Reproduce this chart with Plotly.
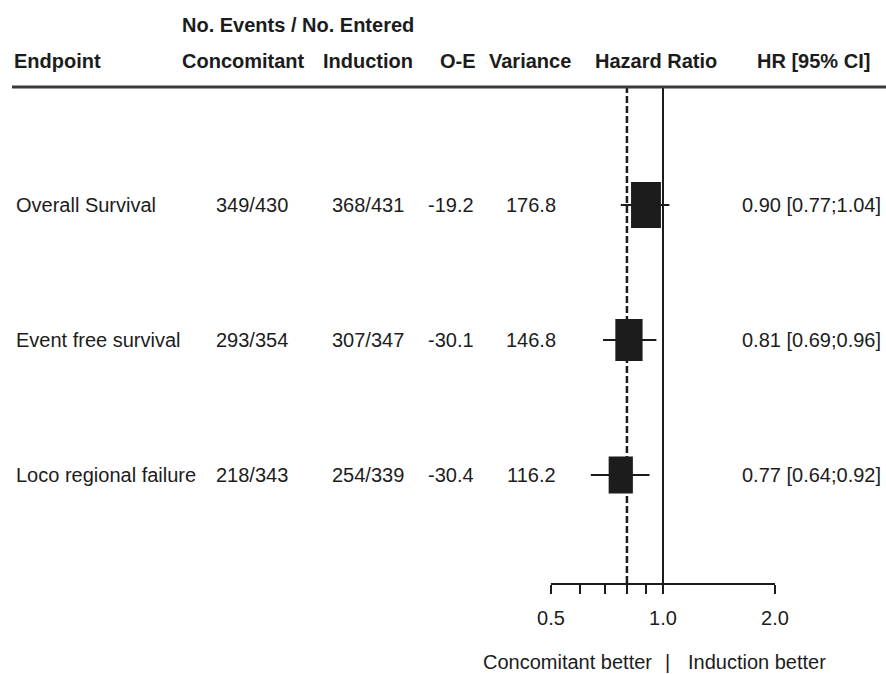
import plotly.graph_objects as go

# ---------------- data ----------------
endpoints = ["Overall Survival", "Event free survival", "Loco regional failure"]
conc_events = [349, 293, 218]
conc_entered = [430, 354, 343]
ind_events = [368, 307, 254]
ind_entered = [431, 347, 339]
o_minus_e = [-19.2, -30.1, -30.4]
variance = [176.8, 146.8, 116.2]
hr = [0.90, 0.81, 0.77]
hr_lo = [0.77, 0.69, 0.64]
hr_hi = [1.04, 0.96, 0.92]
pooled_hr = 0.80
tick_values = [0.5, 0.6, 0.7, 0.8, 0.9, 1.0, 2.0]
tick_labels = ["0.5", "", "", "", "", "1.0", "2.0"]
headers = ["Endpoint", "Concomitant", "Induction", "O-E", "Variance", "Hazard Ratio", "HR [95% CI]"]

W, H = 886, 674
FONT = "Liberation Sans Narrow, Arial Narrow, Liberation Sans, Arial, sans-serif"
TXT = "#1c1c1c"
FS = 20

def px(x):
    return x / W

def py(y):
    return 1 - y / H

rows = list(range(1, len(endpoints) + 1))

fig = go.Figure()

# CI whiskers
for r, lo, hi in zip(rows, hr_lo, hr_hi):
    fig.add_trace(go.Scatter(x=[lo, hi], y=[r, r], mode="lines",
                             line=dict(color="#1c1c1c", width=2),
                             showlegend=False, hoverinfo="skip"))

shapes = []
# reference lines (no effect at 1.0, pooled estimate dashed)
shapes.append(dict(type="line", xref="x", yref="y domain", x0=1.0, x1=1.0, y0=0, y1=1,
                   line=dict(color="#1c1c1c", width=2), layer="below"))
shapes.append(dict(type="line", xref="x", yref="y domain", x0=pooled_hr, x1=pooled_hr, y0=0, y1=1,
                   line=dict(color="#1c1c1c", width=2.5, dash="7px,3px"), layer="below"))
# header rule
shapes.append(dict(type="line", xref="paper", yref="paper", x0=px(12), x1=1.0, y0=py(87), y1=py(87),
                   line=dict(color="#3a3a3a", width=3)))
# boxes, size from variance (width in log-x units, height in pixels)
K_LOG = 0.00302
for r, h, v in zip(rows, hr, variance):
    s = v ** 0.5
    f = 10 ** (K_LOG * s)
    hh = 3.45 * s
    shapes.append(dict(type="rect", xref="x", yref="y",
                       x0=h / f, x1=h * f,
                       ysizemode="pixel", yanchor=r, y0=-hh / 2, y1=hh / 2,
                       fillcolor="#1c1c1c", line=dict(width=0)))

ann = []
def add(text, x, y, xanchor="center", bold=False, yref="paper"):
    t = f"<b>{text}</b>" if bold else text
    ann.append(dict(text=t, x=px(x), y=(py(y) if yref == "paper" else y), xref="paper", yref=yref,
                    xanchor=xanchor, yanchor="middle", showarrow=False,
                    font=dict(family=FONT, size=FS, color=TXT)))

# headers
add("No. Events / No. Entered", 180, 25, "left", True)
add(headers[0], 12, 61, "left", True)
add(headers[1], 180, 61, "left", True)
add(headers[2], 368, 61, "center", True)
add(headers[3], 458, 61, "center", True)
add(headers[4], 530, 61, "center", True)
add(headers[5], 656, 61, "center", True)
add(headers[6], 813, 61, "center", True)

# table rows
for i, r in enumerate(rows):
    add(endpoints[i], 14, r, "left", yref="y")
    add(f"{conc_events[i]}/{conc_entered[i]}", 252, r, "center", yref="y")
    add(f"{ind_events[i]}/{ind_entered[i]}", 368, r, "center", yref="y")
    add(f"{o_minus_e[i]:.1f}", 451, r, "center", yref="y")
    add(f"{variance[i]:.1f}", 531, r, "center", yref="y")
    add(f"{hr[i]:.2f} [{hr_lo[i]:.2f};{hr_hi[i]:.2f}]", 883, r, "right", yref="y")

# footer
add("Concomitant better", 654, 662, "right")
add("|", 667, 662, "center")
add("Induction better", 686, 662, "left")

fig.update_layout(
    width=W, height=H, margin=dict(l=0, r=0, t=0, b=0, autoexpand=False),
    paper_bgcolor="white", plot_bgcolor="white",
    shapes=shapes, annotations=ann, showlegend=False,
    xaxis=dict(type="log", range=[-0.30103, 0.30103], domain=[551 / W, 775 / W],
               showgrid=False, zeroline=False, showline=True, linecolor="#1c1c1c", linewidth=2,
               ticks="outside", ticklen=9, tickwidth=2, tickcolor="#1c1c1c",
               tickvals=tick_values, ticktext=tick_labels, ticklabelstandoff=7,
               tickfont=dict(family=FONT, size=FS, color=TXT), fixedrange=True,
               automargin=False),
    yaxis=dict(range=[3.8, 0.126], domain=[(H - 583) / H, (H - 87) / H], visible=False,
               showgrid=False, zeroline=False, fixedrange=True, automargin=False),
)

fig.write_html("out.html")
